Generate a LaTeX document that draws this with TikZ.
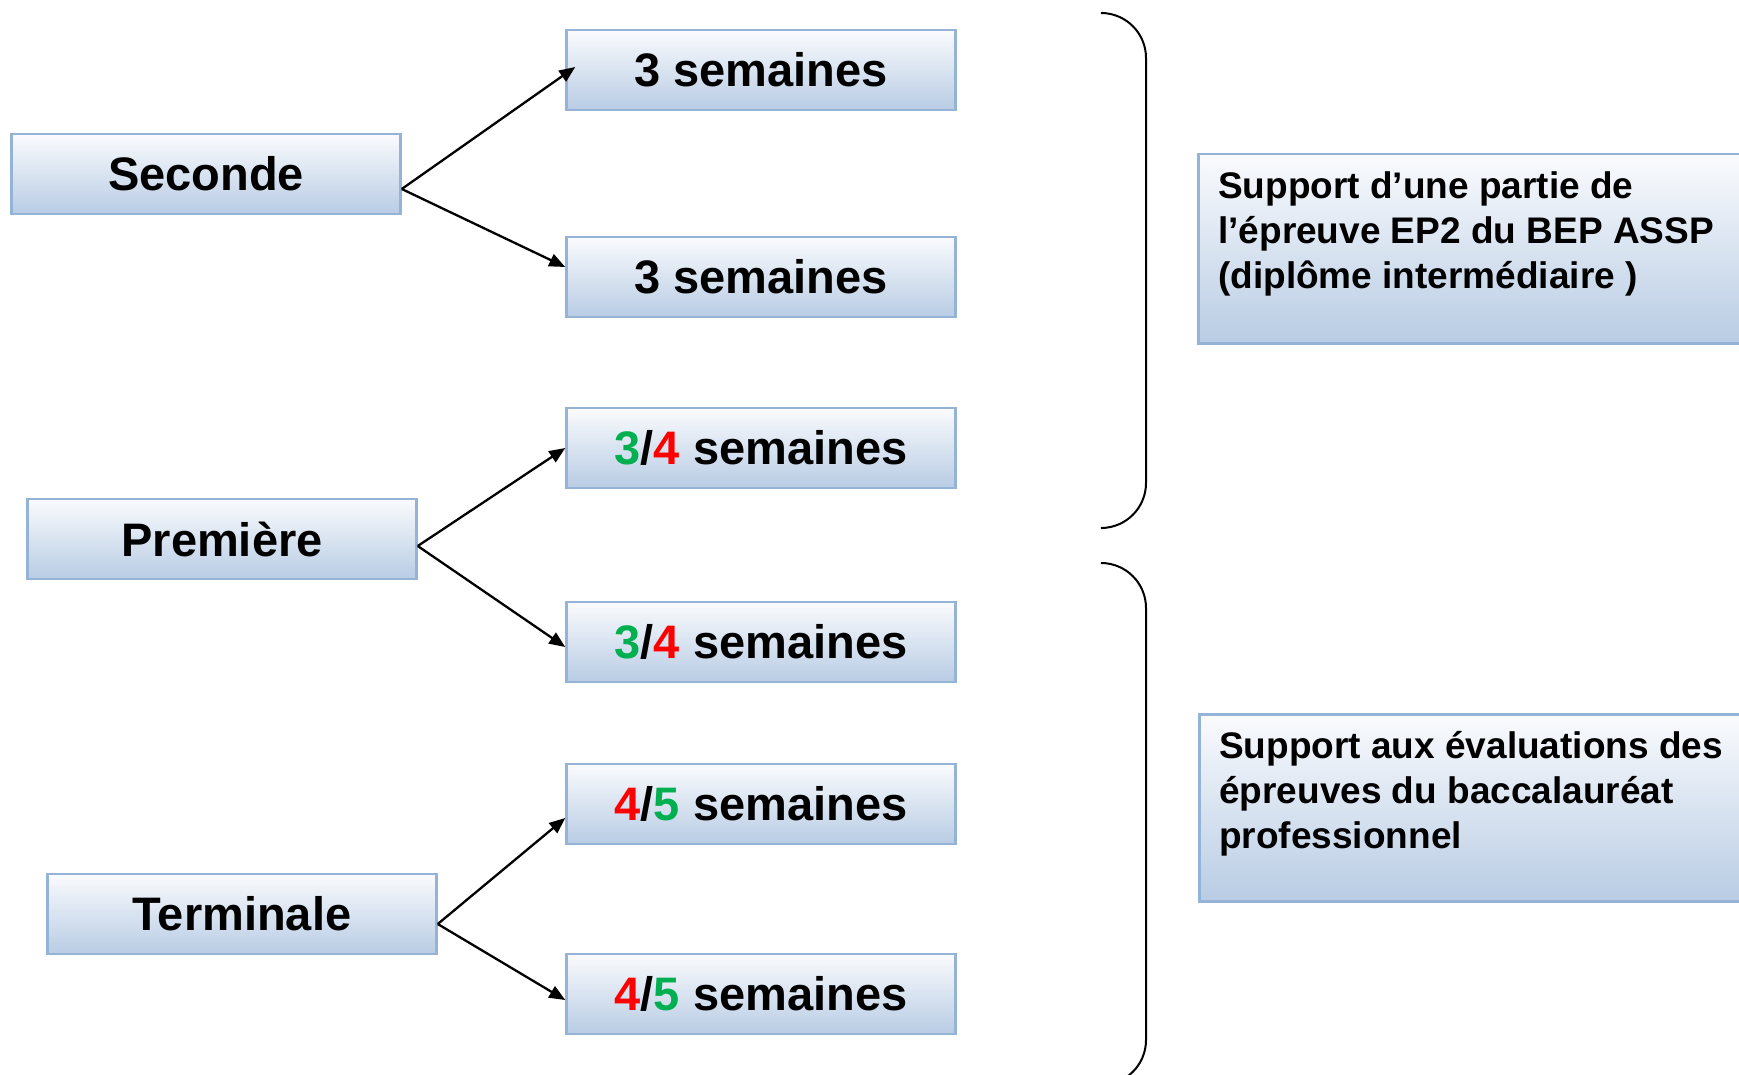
\documentclass[tikz,border=0pt]{standalone}
\usepackage{fontspec}
\setmainfont{Liberation Sans}
\usetikzlibrary{arrows.meta}
\definecolor{bordblue}{RGB}{149,179,215}
\definecolor{topc}{RGB}{250,251,253}
\definecolor{botc}{RGB}{184,204,228}
\definecolor{grn}{RGB}{0,176,80}
\definecolor{rd}{RGB}{255,0,0}
\begin{document}
\begin{tikzpicture}[x=1pt,y=-1pt,
  box/.style={draw=bordblue,line width=2.5pt,top color=topc,bottom color=botc,
    minimum width=389pt,minimum height=80pt,inner sep=0pt,
    font=\fontsize{47}{56}\selectfont\bfseries},
  infobox/.style={draw=bordblue,line width=2.5pt,top color=topc,bottom color=botc,
    anchor=north west,inner xsep=20pt,inner ysep=0pt,
    font=\fontsize{37}{45}\selectfont\bfseries},
  arr/.style={line width=2.3pt,-{Triangle[length=16pt,width=13pt]}},
  brk/.style={line width=2pt,rounded corners=45pt}]
\useasboundingbox (0,0) rectangle (1739,1075);
\clip (0,0) rectangle (1739,1075);
\fill[white] (0,0) rectangle (1739,1075);

\node[box] (sec) at (206,174) {Seconde};
\node[box] (b1) at (761,70) {3 semaines};
\node[box] (b2) at (761,277) {3 semaines};
\node[box] (b3) at (761,448) {\textcolor{grn}{3}/\textcolor{rd}{4} semaines};
\node[box] (pre) at (222,539) {Première};
\node[box] (b4) at (761,642) {\textcolor{grn}{3}/\textcolor{rd}{4} semaines};
\node[box] (b5) at (761,804) {\textcolor{rd}{4}/\textcolor{grn}{5} semaines};
\node[box] (ter) at (242,914) {Terminale};
\node[box] (b6) at (761,994) {\textcolor{rd}{4}/\textcolor{grn}{5} semaines};

\draw[arr] ([yshift=-15pt]sec.east) -- ([xshift=10pt,yshift=3pt]b1.west);
\draw[arr] ([yshift=-15pt]sec.east) -- ([yshift=10pt]b2.west);
\draw[arr] ([yshift=-7pt]pre.east) -- (b3.west);
\draw[arr] ([yshift=-7pt]pre.east) -- ([yshift=-5pt]b4.west);
\draw[arr] ([yshift=-10pt]ter.east) -- ([yshift=-14pt]b5.west);
\draw[arr] ([yshift=-10pt]ter.east) -- ([yshift=-6pt]b6.west);

\draw[brk] (1103,13) -- (1146,13) -- (1146,528) -- (1103,528);
\draw[brk] (1103,563) -- (1146,563) -- (1146,1085) -- (1103,1085);

\node[infobox] (s1) at (1197,153) {\parbox[c][189pt][t]{540pt}{\raggedright\vspace*{17pt}Support d’une partie de\\l’épreuve EP2 du BEP ASSP\\(diplôme intermédiaire )}};
\node[infobox] (s2) at (1198,713) {\parbox[c][187pt][t]{540pt}{\raggedright\vspace*{17pt}Support aux évaluations des\\épreuves du baccalauréat\\professionnel}};
\end{tikzpicture}
\end{document}
